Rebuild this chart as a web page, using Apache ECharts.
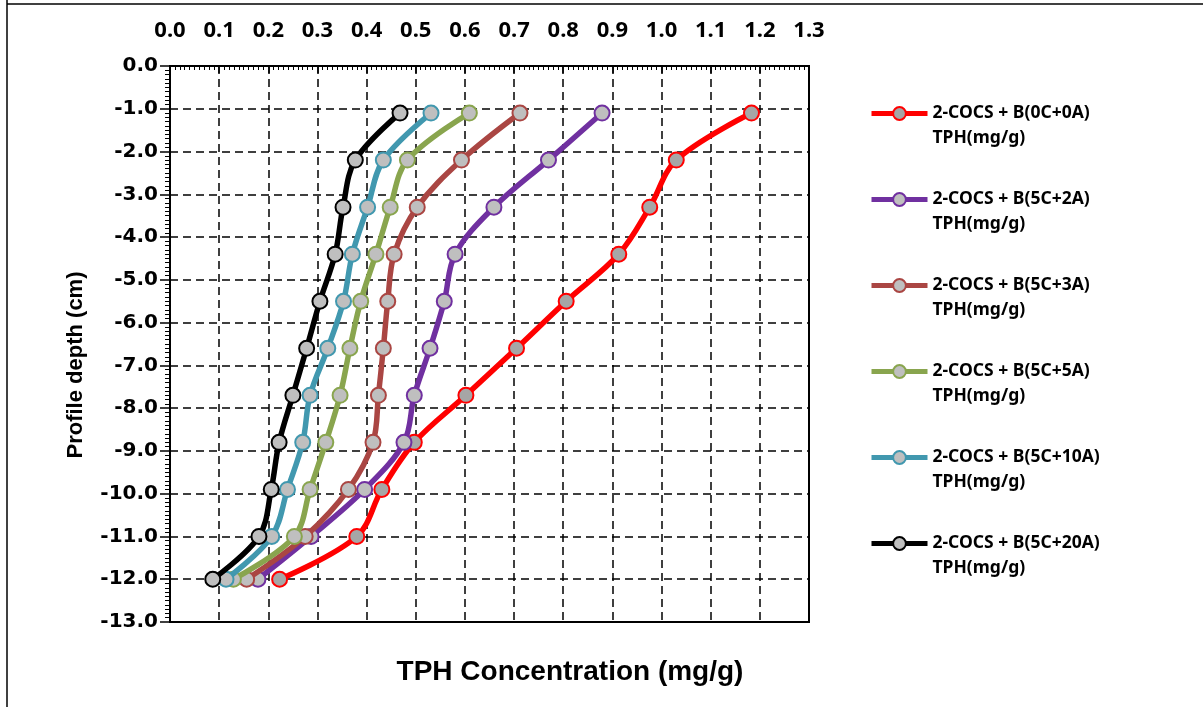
<!DOCTYPE html>
<html>
<head>
<meta charset="utf-8">
<script src="https://cdn.jsdelivr.net/npm/echarts@6/dist/echarts.min.js"></script>
<style>html,body{margin:0;padding:0;background:#fff;}#c{width:1203px;height:707px;}</style>
</head>
<body>
<div id="c"></div>
<script>
// ---- data ----
const depths = [-1.1, -2.2, -3.3, -4.4, -5.5, -6.6, -7.7, -8.8, -9.9, -11.0, -12.0];
const seriesNames = [
  '2-COCS + B(0C+0A)',
  '2-COCS + B(5C+2A)',
  '2-COCS + B(5C+3A)',
  '2-COCS + B(5C+5A)',
  '2-COCS + B(5C+10A)',
  '2-COCS + B(5C+20A)'
];
const tph_0C0A  = [1.183, 1.030, 0.976, 0.913, 0.806, 0.705, 0.602, 0.497, 0.431, 0.380, 0.223];
const tph_5C2A  = [0.879, 0.770, 0.659, 0.580, 0.558, 0.529, 0.497, 0.476, 0.396, 0.287, 0.179];
const tph_5C3A  = [0.712, 0.593, 0.503, 0.456, 0.443, 0.434, 0.424, 0.413, 0.363, 0.275, 0.156];
const tph_5C5A  = [0.609, 0.483, 0.448, 0.419, 0.388, 0.366, 0.346, 0.317, 0.285, 0.253, 0.129];
const tph_5C10A = [0.531, 0.434, 0.402, 0.371, 0.353, 0.321, 0.285, 0.270, 0.239, 0.207, 0.114];
const tph_5C20A = [0.468, 0.377, 0.352, 0.336, 0.305, 0.278, 0.250, 0.222, 0.206, 0.181, 0.087];
const unitLine = 'TPH(mg/g)';
const xTitle = 'TPH Concentration (mg/g)';
const yTitle = 'Profile depth (cm)';

// ---- styles ----
const allValues = [tph_0C0A, tph_5C2A, tph_5C3A, tph_5C5A, tph_5C10A, tph_5C20A];
const colors = ['#FF0000', '#7030A0', '#AA4643', '#89A54E', '#4198AF', '#000000'];
const fills  = ['#A6A6A6', '#BFBFBF', '#BFBFBF', '#BFBFBF', '#BFBFBF', '#BFBFBF'];

const series = allValues.map((vals, i) => ({
  name: seriesNames[i],
  type: 'line',
  smooth: 0.35,
  data: vals.map((v, j) => [v, depths[j]]),
  symbol: 'circle',
  symbolSize: 15,
  lineStyle: { color: colors[i], width: 5.5 },
  itemStyle: { color: fills[i], borderColor: colors[i], borderWidth: 2 },
  z: 2 + i
}));

const chart = echarts.init(document.getElementById('c'));
chart.setOption({
  animation: false,
  backgroundColor: '#fff',
  grid: { left: 170, top: 66, width: 639, height: 556, show: true, borderColor: '#000', borderWidth: 2, containLabel: false },
  xAxis: {
    type: 'value', position: 'top', min: 0, max: 1.3, interval: 0.1,
    axisLine: { show: true, lineStyle: { color: '#000', width: 2 } },
    axisTick: { show: true, inside: true, length: 7, lineStyle: { color: '#000', width: 1.5 } },
    minorTick: { show: true, splitNumber: 10, length: 4, lineStyle: { color: '#000', width: 1 } },
    splitLine: { show: true, lineStyle: { color: '#000', width: 1.5, type: [8, 5] } },
    axisLabel: { margin: 24, color: '#000', fontFamily: 'Noto Sans', fontWeight: 'bold', fontSize: 22,
      formatter: v => v.toFixed(1) }
  },
  yAxis: {
    type: 'value', min: -13, max: 0, interval: 1,
    axisLine: { show: true, lineStyle: { color: '#000', width: 2 } },
    axisTick: { show: true, inside: false, length: 10, lineStyle: { color: '#000', width: 1.5 } },
    minorTick: { show: true, splitNumber: 10, length: 5, lineStyle: { color: '#000', width: 1 } },
    splitLine: { show: true, lineStyle: { color: '#000', width: 1.5, type: [8, 5] } },
    axisLabel: { margin: 12, color: '#000', fontFamily: 'DejaVu Sans', fontWeight: 'bold', fontSize: 20,
      formatter: v => v.toFixed(1) }
  },
  legend: {
    orient: 'vertical', left: 864, top: 71,
    itemWidth: 56, itemHeight: 16, itemGap: 11,
    data: seriesNames,
    lineStyle: { width: 5 },
    itemStyle: { borderWidth: 2 },
    formatter: name => ' \n' + name + '\n' + unitLine,
    textStyle: { color: '#000', fontFamily: 'Noto Sans', fontWeight: 'bold', fontSize: 17.5, lineHeight: 25 }
  },
  graphic: [
    { type: 'line', shape: { x1: 7, y1: 0, x2: 7, y2: 707 }, style: { stroke: '#000', lineWidth: 1.5 } },
    { type: 'line', shape: { x1: 7, y1: 4, x2: 1203, y2: 4 }, style: { stroke: '#000', lineWidth: 1.5 } },
    { type: 'text', x: 570, y: 672, style: { text: xTitle, textAlign: 'center', textVerticalAlign: 'middle',
        fill: '#000', font: 'bold 28px "Liberation Sans", Arial' } },
    { type: 'text', x: 76, y: 365, rotation: Math.PI / 2, style: { text: yTitle, textAlign: 'center', textVerticalAlign: 'middle',
        fill: '#000', font: 'bold 22px "Liberation Sans", Arial' } }
  ],
  series: series
});
</script>
</body>
</html>
